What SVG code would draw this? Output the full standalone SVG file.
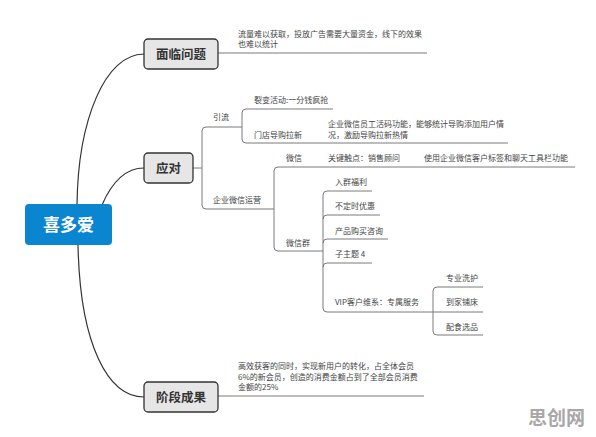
<svg xmlns="http://www.w3.org/2000/svg" width="596" height="437" viewBox="0 0 596 437">
<defs>
<style>
.bg{fill:#ffffff}
.curve{fill:none;stroke:#333;stroke-width:1.2}
.ln{fill:none;stroke:#7a7a7a;stroke-width:1}
.main rect{fill:#e6e6e6;stroke:#333;stroke-width:1.3}
.main text{font-family:"Noto Sans CJK SC","Noto Sans",sans-serif;font-size:12.5px;font-weight:bold;fill:#333;text-anchor:middle}
.root rect{fill:#0a85cf}
.root text{font-family:"Noto Sans CJK SC","Noto Sans",sans-serif;font-size:17px;font-weight:bold;fill:#fff;text-anchor:middle}
.t{font-family:"Noto Sans CJK SC","Noto Sans",sans-serif;font-size:8px;fill:#444}
.wm{font-family:"Noto Sans CJK SC","Noto Sans",sans-serif;font-size:19px;font-weight:bold;fill:#a8a8a8}
</style>
</defs>
<rect class="bg" x="0" y="0" width="596" height="437"/>

<g id="connectors">
<path class="curve" d="M77,205 C78,120 105,54 144,54"/>
<path class="curve" d="M102,205 C112,182 125,168 144,168"/>
<path class="curve" d="M78,245 C80,345 108,397 144,397"/>
<!-- 面临问题 -->
<path class="ln" d="M218,53 H427"/>
<!-- 阶段成果 -->
<path class="ln" d="M218,396 H424"/>
<!-- 应对 -->
<path class="ln" d="M193,168 H202"/>
<path class="ln" d="M242,127 H206 Q202,127 202,131 V205 Q202,209 206,209 H274"/>
<!-- 引流 -->
<path class="ln" d="M333,109 H246 Q242,109 242,113 V139 Q242,143 246,143 H508"/>
<!-- 企业微信运营 -->
<path class="ln" d="M575,167 H278 Q274,167 274,171 V247 Q274,251 278,251 H323"/>
<!-- 微信群 -->
<path class="ln" d="M372,191 H327 Q323,191 323,195 V308 Q323,312 327,312 H433"/>
<path class="ln" d="M323,219 Q323,215 327,215 H380"/>
<path class="ln" d="M323,243 Q323,239 327,239 H388"/>
<path class="ln" d="M323,267 Q323,263 327,263 H372"/>
<!-- VIP -->
<path class="ln" d="M483,287 H437 Q433,287 433,291 V331 Q433,335 437,335 H483"/>
<path class="ln" d="M433,312 H483"/>
</g>

<g id="root" class="root">
<rect x="25" y="204" width="87" height="41" rx="4"/>
<text x="68.5" y="231">喜多爱</text>
</g>

<g id="n-mianlin" class="main">
<rect x="144" y="39" width="74" height="30" rx="4"/>
<text x="181" y="58.5">面临问题</text>
</g>
<g id="n-mianlin-desc">
<text class="t" x="238" y="37">流量难以获取，投放广告需要大量资金，线下的效果</text>
<text class="t" x="238" y="47">也难以统计</text>
</g>

<g id="n-yingdui" class="main">
<rect x="144" y="153" width="49" height="30" rx="4"/>
<text x="168.5" y="172.5">应对</text>
</g>

<g id="n-jieduan" class="main">
<rect x="144" y="382" width="74" height="30" rx="4"/>
<text x="181" y="401.5">阶段成果</text>
</g>
<g id="n-jieduan-desc">
<text class="t" x="238" y="369">高效获客的同时，实现新用户的转化，占全体会员</text>
<text class="t" x="238" y="380">6%的新会员，创造的消费金额占到了全部会员消费</text>
<text class="t" x="238" y="390">金额的25%</text>
</g>

<g id="n-yinliu"><text class="t" x="213" y="120">引流</text></g>
<g id="n-liebian"><text class="t" x="254" y="103">裂变活动:一分钱疯抢</text></g>
<g id="n-mendian"><text class="t" x="254" y="138">门店导购拉新</text></g>
<g id="n-mendian-desc">
<text class="t" x="328" y="127">企业微信员工活码功能，能够统计导购添加用户情</text>
<text class="t" x="328" y="138">况，激励导购拉新热情</text>
</g>

<g id="n-qiye"><text class="t" x="213" y="203">企业微信运营</text></g>
<g id="n-weixin"><text class="t" x="286" y="161">微信</text></g>
<g id="n-guanjian"><text class="t" x="328" y="161">关键触点：销售顾问</text></g>
<g id="n-shiyong"><text class="t" x="424" y="161">使用企业微信客户标签和聊天工具栏功能</text></g>

<g id="n-weixinqun"><text class="t" x="286" y="246">微信群</text></g>
<g id="n-ruqun"><text class="t" x="335" y="185">入群福利</text></g>
<g id="n-budingshi"><text class="t" x="335" y="209">不定时优惠</text></g>
<g id="n-chanpin"><text class="t" x="335" y="234">产品购买咨询</text></g>
<g id="n-zizhuti"><text class="t" x="335" y="257">子主题 4</text></g>
<g id="n-vip"><text class="t" x="335" y="305">VIP客户维系：专属服务</text></g>
<g id="n-zhuanye"><text class="t" x="446" y="281">专业洗护</text></g>
<g id="n-daojia"><text class="t" x="446" y="305">到家铺床</text></g>
<g id="n-peishi"><text class="t" x="446" y="330">配食选品</text></g>

<text class="wm" x="528" y="425">思创网</text>
</svg>
